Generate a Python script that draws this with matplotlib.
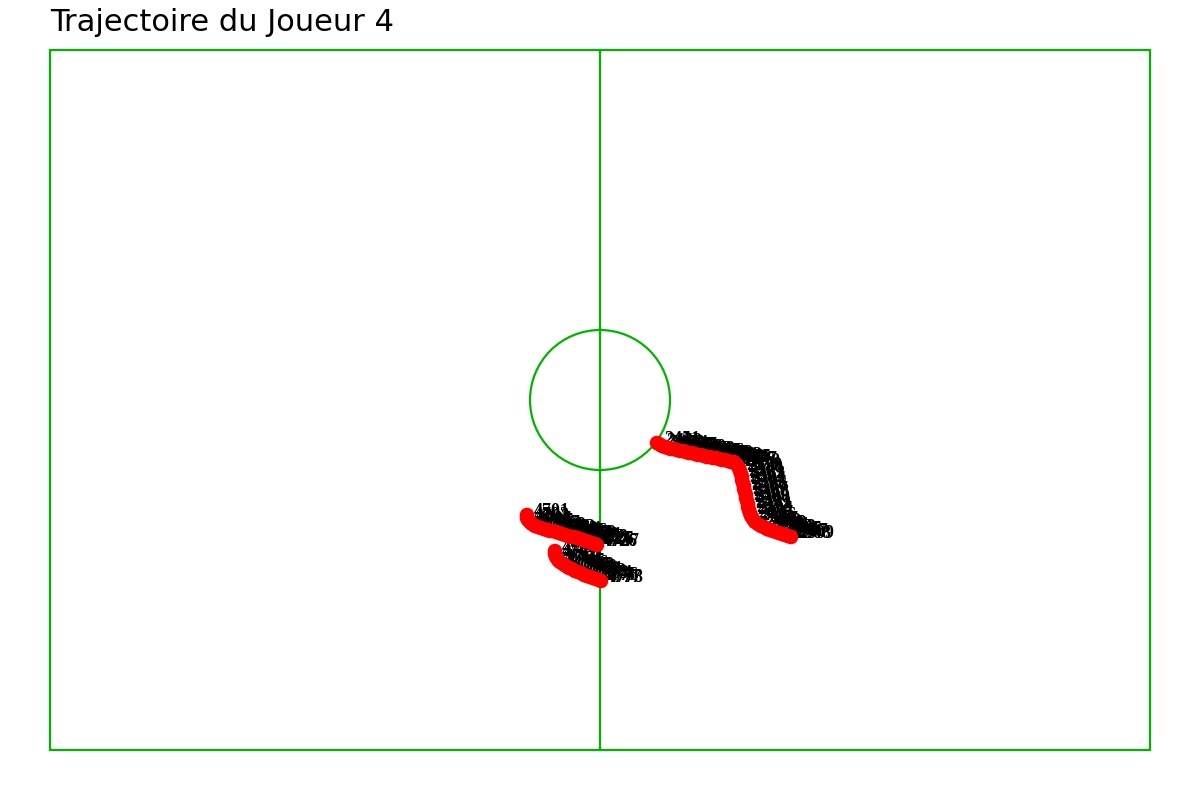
import numpy as np
import matplotlib.pyplot as plt
from matplotlib.patches import Rectangle, Circle

# pitch size (units) and centre circle
pitch_length = 110
pitch_width = 70
circle_radius = 7

# trajectory segments of player 4 (x, y on the pitch) and frame numbers
seg_a_x = [60.7, 60.9, 61.2, 61.5, 61.8, 62.1, 62.4, 62.7, 63.0, 63.3, 63.6, 63.9, 64.2, 64.5, 64.8,
           65.1, 65.4, 65.7, 66.0, 66.3, 66.6, 66.9, 67.2, 67.5, 67.8, 68.1, 68.4,
           68.7, 68.9, 69.0, 69.1, 69.2, 69.2, 69.3, 69.4, 69.4, 69.5, 69.6, 69.6, 69.7, 69.8, 69.8,
           69.9, 70.0, 70.1, 70.3, 70.5, 70.8, 71.1, 71.4, 71.7, 72.0, 72.3, 72.6, 72.9, 73.2, 73.5,
           73.8, 74.1]
seg_a_y = [30.7, 30.6, 30.4, 30.3, 30.2, 30.1, 30.1, 30.0, 29.9, 29.9, 29.8, 29.7, 29.7, 29.6, 29.5,
           29.5, 29.4, 29.3, 29.3, 29.2, 29.2, 29.1, 29.0, 29.0, 28.9, 28.8, 28.8,
           28.5, 28.2, 27.9, 27.6, 27.3, 27.0, 26.7, 26.4, 26.1, 25.8, 25.5, 25.2, 24.9, 24.6, 24.3,
           24.0, 23.7, 23.4, 23.1, 22.8, 22.6, 22.4, 22.3, 22.1, 22.0, 21.9, 21.8, 21.7, 21.6, 21.5,
           21.4, 21.3]
seg_a_frames = [2451, 2452, 2453, 2454, 2455, 2456, 2457, 2458, 2459, 2460, 2461, 2462, 2463, 2464, 2465,
                2466, 2467, 2468, 2469, 2470, 2471, 2472, 2473, 2474, 2475, 2476, 2477,
                2478, 2479, 2480, 2481, 2482, 2483, 2484, 2485, 2486, 2487, 2488, 2489, 2490, 2491, 2492,
                2493, 2494, 2495, 2496, 2497, 2498, 2499, 2500, 2501, 2502, 2503, 2504, 2505, 2506, 2507,
                2508, 2509]

seg_b_x = [47.7, 47.7, 47.8, 48.0, 48.2, 48.5, 48.8, 49.1, 49.4, 49.7, 50.0, 50.3, 50.6, 50.9,
           51.2, 51.5, 51.8, 52.1, 52.4, 52.7, 53.0, 53.3, 53.6, 53.9, 54.2, 54.5, 54.7]
seg_b_y = [23.5, 23.2, 23.0, 22.8, 22.6, 22.4, 22.3, 22.2, 22.1, 22.0, 21.9, 21.9, 21.8, 21.7,
           21.6, 21.5, 21.4, 21.3, 21.3, 21.2, 21.1, 21.0, 20.9, 20.8, 20.7, 20.6, 20.5]
seg_b_frames = [4701, 4702, 4703, 4704, 4705, 4706, 4707, 4708, 4709, 4710, 4711, 4712, 4713, 4714,
                4715, 4716, 4717, 4718, 4719, 4720, 4721, 4722, 4723, 4724, 4725, 4726, 4727]

seg_c_x = [50.5, 50.5, 50.6, 50.8, 51.0, 51.3, 51.6, 51.9, 52.2, 52.5, 52.8, 53.1, 53.4, 53.7,
           54.0, 54.3, 54.6, 54.9, 55.1]
seg_c_y = [19.9, 19.6, 19.3, 19.0, 18.8, 18.6, 18.4, 18.2, 18.1, 17.9, 17.8, 17.7, 17.5, 17.4,
           17.3, 17.2, 17.1, 17.0, 16.9]
seg_c_frames = [4760, 4761, 4762, 4763, 4764, 4765, 4766, 4767, 4768, 4769, 4770, 4771, 4772, 4773,
                4774, 4775, 4776, 4777, 4778]

green = '#00b400'

fig = plt.figure(figsize=(12, 8), dpi=100)
ax = fig.add_axes([50 / 1200, 50 / 800, 1100 / 1200, 700 / 800])
ax.set_xlim(0, pitch_length)
ax.set_ylim(0, pitch_width)
ax.axis('off')

# pitch
ax.add_patch(Rectangle((0, 0), pitch_length, pitch_width, fill=False, ec=green, lw=1.6, clip_on=False))
ax.plot([pitch_length / 2, pitch_length / 2], [0, pitch_width], color=green, lw=1.6, clip_on=False)
ax.add_patch(Circle((pitch_length / 2, pitch_width / 2), circle_radius, fill=False, ec=green, lw=1.6))

for xs, ys, frames in [(seg_a_x, seg_a_y, seg_a_frames),
                       (seg_b_x, seg_b_y, seg_b_frames),
                       (seg_c_x, seg_c_y, seg_c_frames)]:
    ax.scatter(xs, ys, s=110, color='red', edgecolors='none', zorder=3)
    for x, y, f in zip(xs, ys, frames):
        ax.annotate(str(f), (x, y), xytext=(7, 3), textcoords='offset pixels',
                    fontsize=13, fontweight='bold', family='Liberation Serif', color='black',
                    ha='left', va='center', zorder=2)

fig.text(50 / 1200, 1 - 31 / 800, 'Trajectoire du Joueur 4', fontsize=22,
         ha='left', va='baseline', color='black')

fig.savefig('out.png', dpi=100, facecolor='white')
